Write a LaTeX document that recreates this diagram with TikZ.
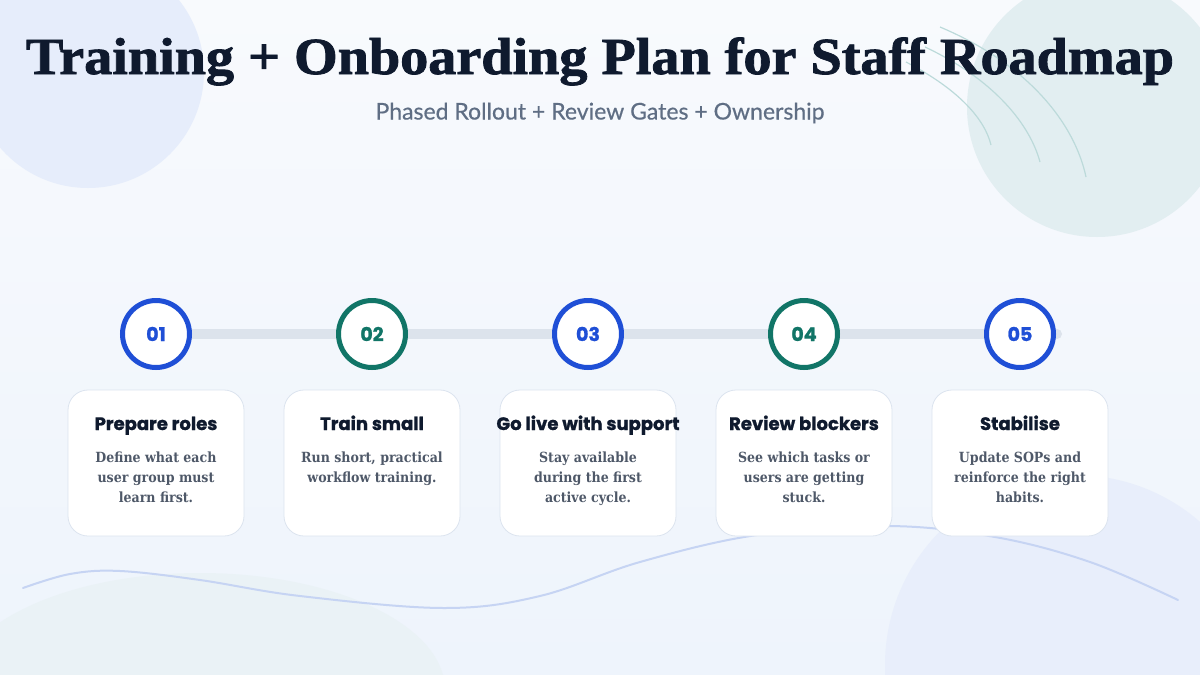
\documentclass[tikz,border=0pt]{standalone}
\usepackage{fontspec}
\setmainfont{Liberation Serif}
\newfontfamily\titlefont{Liberation Serif}[BoldFeatures={FakeBold=1.5}]
\newfontfamily\descfont{DejaVu Serif Condensed}
\newfontfamily\popfont{Poppins}[BoldFeatures={FakeBold=1.2}]
\newfontfamily\subfont{Lato}[FakeBold=0.5]
\definecolor{bgtop}{HTML}{F8FAFD}
\definecolor{bgbot}{HTML}{EEF4FC}
\definecolor{blobblue}{HTML}{E6EDFB}
\definecolor{blobteal}{HTML}{E2EEF1}
\definecolor{blobgreen}{HTML}{E8F1F3}
\definecolor{arccol}{HTML}{BCDADA}
\definecolor{wavecol}{HTML}{C6D4F3}
\definecolor{barcol}{HTML}{DCE3EC}
\definecolor{stepblue}{HTML}{1F4FD6}
\definecolor{stepteal}{HTML}{117567}
\definecolor{navy}{HTML}{0F1A2E}
\definecolor{subgray}{HTML}{5F6E84}
\definecolor{descgray}{HTML}{4E5868}
\definecolor{cardline}{HTML}{DCE4EF}
\begin{document}
\begin{tikzpicture}[x=1pt,y=-1pt,
  numcircle/.style={circle,draw=#1,line width=5pt,fill=white,minimum size=67pt,inner sep=0pt,
    text=#1,font=\popfont\bfseries\fontsize{19}{19}\selectfont},
  card/.style={draw=cardline,line width=0.8pt,fill=white,rounded corners=20pt,minimum width=176pt,minimum height=146pt,inner sep=0pt},
  cardtitle/.style={text=navy,anchor=base,font=\popfont\bfseries\fontsize{18}{20}\selectfont},
  carddesc/.style={text=descgray,align=center,font=\descfont\bfseries\fontsize{14}{20}\selectfont}
]
\useasboundingbox (0,0) rectangle (1200,675);
\begin{scope}
\clip (0,0) rectangle (1200,675);
\shade[top color=bgtop,bottom color=bgbot] (0,0) rectangle (1200,675);
% background blobs
\fill[blobblue] (88,72) circle[radius=116];
\fill[blobteal] (1097,107) circle[radius=130];
\fill[blobgreen!70!bgbot] (200,690) ellipse[x radius=245,y radius=117];
\fill[blobblue!80!bgbot] (1075,665) circle[radius=190];
% arcs top right
\draw[arccol,line width=1.2pt] (906,62) .. controls (960,90) and (985,120) .. (991,145);
\draw[arccol,line width=1.2pt] (925,47) .. controls (995,80) and (1030,125) .. (1040,162);
\draw[arccol,line width=1.2pt] (940,27) .. controls (1030,65) and (1075,125) .. (1086,177);
% wave
\draw[wavecol,line width=2pt,line cap=round] plot[smooth,tension=0.6] coordinates
 {(23,588) (70,574) (120,571) (200,580) (300,596) (444,608) (540,596) (640,562) (757,535) (888,526) (995,537) (1090,562) (1178,600)};
\end{scope}
% title
\node[text=navy,anchor=base,font=\titlefont\bfseries\fontsize{52}{56}\selectfont] (title) at (600,74) {\scalebox{1.08}[1]{Training + Onboarding Plan for Staff Roadmap}};
\node[text=subgray,font=\subfont\fontsize{23}{26}\selectfont] (subtitle) at (600,113) {Phased Rollout + Review Gates + Ownership};
% timeline
\coordinate (barstart) at (156,334);
\coordinate (barend) at (1057,334);
\draw[barcol,line width=10pt,line cap=round] (barstart) -- (barend);
\node[numcircle=stepblue] (n1) at (156,334) {01};
\node[numcircle=stepteal] (n2) at (372,334) {02};
\node[numcircle=stepblue] (n3) at (588,334) {03};
\node[numcircle=stepteal] (n4) at (804,334) {04};
\node[numcircle=stepblue] (n5) at (1020,334) {05};
% cards
\node[card] (c1) at (156,463) {};
\node[card] (c2) at (372,463) {};
\node[card] (c3) at (588,463) {};
\node[card] (c4) at (804,463) {};
\node[card] (c5) at (1020,463) {};
\node[cardtitle] (t1) at (156,430) {Prepare roles};
\node[cardtitle] (t2) at (372,430) {Train small};
\node[cardtitle] (t3) at (588,430) {Go live with support};
\node[cardtitle] (t4) at (804,430) {Review blockers};
\node[cardtitle] (t5) at (1020,430) {Stabilise};
\node[carddesc,anchor=north] (d1) at (156,448) {Define what each\\user group must\\learn first.};
\node[carddesc,anchor=north] (d2) at (372,448) {Run short, practical\\workflow training.};
\node[carddesc,anchor=north] (d3) at (588,448) {Stay available\\during the first\\active cycle.};
\node[carddesc,anchor=north] (d4) at (804,448) {See which tasks or\\users are getting\\stuck.};
\node[carddesc,anchor=north] (d5) at (1020,448) {Update SOPs and\\reinforce the right\\habits.};
\end{tikzpicture}
\end{document}
